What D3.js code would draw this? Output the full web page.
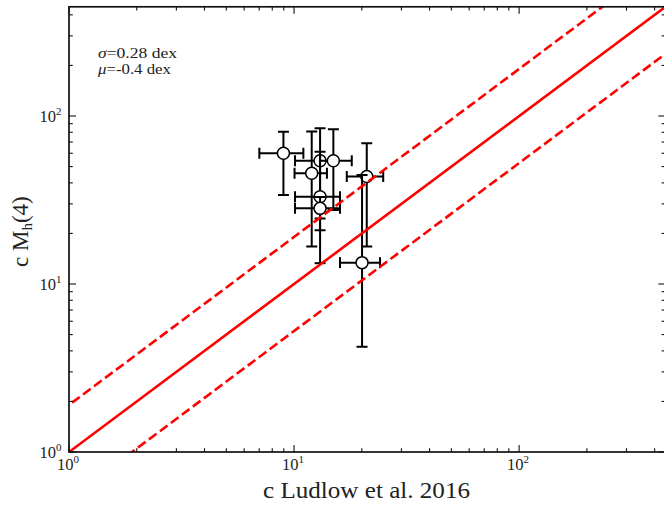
<!DOCTYPE html>
<html><head><meta charset="utf-8">
<script src="https://cdn.jsdelivr.net/npm/d3@7"></script>
<style>body{margin:0;background:#fff}svg{display:block}</style>
</head><body>
<svg id="c" width="664" height="506"></svg>
<script>
// ---- data ----
const cLudlow = [8.97, 13.05, 14.95, 11.98, 13.05, 13.05, 21.04, 20.05];
const cMh     = [60.0, 54.2, 54.2, 45.6, 33.1, 28.2, 43.6, 13.4];
const xLow    = [7.01, 10.1, 13.05, 10.05, 10.1, 10.1, 17.15, 16.0];
const xHigh   = [11.0, 14.95, 18.05, 14.0, 16.0, 16.0, 24.9, 24.1];
const yLow    = [33.9, 13.3, 27.6, 16.7, 20.9, 24.5, 16.7, 4.23];
const yHigh   = [80.6, 84.5, 83.5, 80.9, 61.3, 33.0, 68.8, 44.5];
const sigmaDex = 0.28;
const majorTicks = [1, 10, 100];
const majorLabels = ["0", "1", "2"];
const annotations = ["σ=0.28 dex", "μ=-0.4 dex"];

const svg = d3.select("#c");
const L = 69, R = 665.4, T = 6.8, B = 452;
const dmax = Math.pow(10, 2.65);
const x = d3.scaleLog().domain([1, dmax]).range([L, R]);
const y = d3.scaleLog().domain([1, dmax]).range([B, T]);
const serif = "'Liberation Serif', 'DejaVu Serif', serif";

svg.append("clipPath").attr("id", "pc").append("rect")
  .attr("x", L).attr("y", T).attr("width", R - L).attr("height", B - T);

// error bars + markers
const g = svg.append("g").attr("clip-path", "url(#pc)");
const cap = 5.5;
cLudlow.forEach((cx, i) => {
  const gi = g.append("g").attr("stroke", "#000").attr("stroke-width", 2).attr("fill", "none");
  const px = x(cx), py = y(cMh[i]);
  gi.append("line").attr("x1", px).attr("x2", px).attr("y1", y(yLow[i])).attr("y2", y(yHigh[i]));
  gi.append("line").attr("x1", x(xLow[i])).attr("x2", x(xHigh[i])).attr("y1", py).attr("y2", py);
  [yLow[i], yHigh[i]].forEach(v => gi.append("line").attr("x1", px - cap).attr("x2", px + cap).attr("y1", y(v)).attr("y2", y(v)));
  [xLow[i], xHigh[i]].forEach(v => gi.append("line").attr("x1", x(v)).attr("x2", x(v)).attr("y1", py - cap).attr("y2", py + cap));
  gi.append("circle").attr("cx", px).attr("cy", py).attr("r", 6)
    .attr("fill", "#fff").attr("stroke", "#000").attr("stroke-width", 1.5);
});

// relation lines
const lg = svg.append("g").attr("clip-path", "url(#pc)");
const xs = [0.3, 2000];
const lineGen = k => d3.line().x(d => x(d)).y(d => y(d * k));
lg.append("path").datum(xs).attr("d", lineGen(1)).attr("stroke", "#ff0000").attr("stroke-width", 2.6).attr("fill", "none");
[Math.pow(10, sigmaDex), Math.pow(10, -sigmaDex)].forEach(k =>
  lg.append("path").datum(xs).attr("d", lineGen(k)).attr("stroke", "#ff0000").attr("stroke-width", 2.6)
    .attr("fill", "none").attr("stroke-dasharray", "9.5,4.2"));

// ticks (inward, all sides)
const minor = [];
for (let d = 1; d <= 100; d *= 10) for (let m = 2; m <= 9; m++) if (m * d < dmax) minor.push(m * d);
const tg = svg.append("g").attr("stroke", "#111").attr("stroke-width", 1.1);
function ticks(vals, len) {
  vals.forEach(v => {
    const px = x(v), py = y(v);
    tg.append("line").attr("x1", px).attr("x2", px).attr("y1", B).attr("y2", B - len);
    tg.append("line").attr("x1", px).attr("x2", px).attr("y1", T).attr("y2", T + len);
    tg.append("line").attr("y1", py).attr("y2", py).attr("x1", L).attr("x2", L + len);
    tg.append("line").attr("y1", py).attr("y2", py).attr("x1", R).attr("x2", R - len);
  });
}
ticks(majorTicks, 7);
ticks(minor, 3.8);

// spines
svg.append("rect").attr("x", L).attr("y", T).attr("width", R - L).attr("height", B - T)
  .attr("fill", "none").attr("stroke", "#111").attr("stroke-width", 1.7);

// tick labels
function powLabel(sel, exp) {
  sel.append("tspan").text("10");
  sel.append("tspan").attr("dy", -7).attr("font-size", 11).text(exp);
}
majorTicks.forEach((v, i) => {
  const tx = svg.append("text").attr("x", x(v) - 12).attr("y", B + 18)
    .attr("font-family", serif).attr("font-size", 16.5).attr("fill", "#222");
  powLabel(tx, majorLabels[i]);
  const ty = svg.append("text").attr("x", L - 29.5).attr("y", y(v) + 5.5)
    .attr("font-family", serif).attr("font-size", 16.5).attr("fill", "#222");
  powLabel(ty, majorLabels[i]);
});

// axis titles
svg.append("text").attr("x", 263).attr("y", 498)
  .attr("font-family", serif).attr("font-size", 23).attr("fill", "#222")
  .attr("textLength", 207).attr("lengthAdjust", "spacingAndGlyphs").text("c Ludlow et al. 2016");
const yt = svg.append("text").attr("transform", "translate(28,267) rotate(-90)")
  .attr("font-family", serif).attr("font-size", 23).attr("fill", "#222");
yt.append("tspan").text("c M");
yt.append("tspan").attr("dy", 4).attr("font-size", 15).text("h");
yt.append("tspan").attr("dy", -4).text("(4)");

// annotation
const annW = [79, 73];
annotations.forEach((t, i) => {
  const a = svg.append("text").attr("x", 98).attr("y", 58 + i * 16)
    .attr("font-family", serif).attr("font-size", 14).attr("fill", "#222")
    .attr("textLength", annW[i]).attr("lengthAdjust", "spacingAndGlyphs");
  a.append("tspan").attr("font-style", "italic").text(t[0]);
  a.append("tspan").text(t.slice(1));
});
</script>
</body></html>
